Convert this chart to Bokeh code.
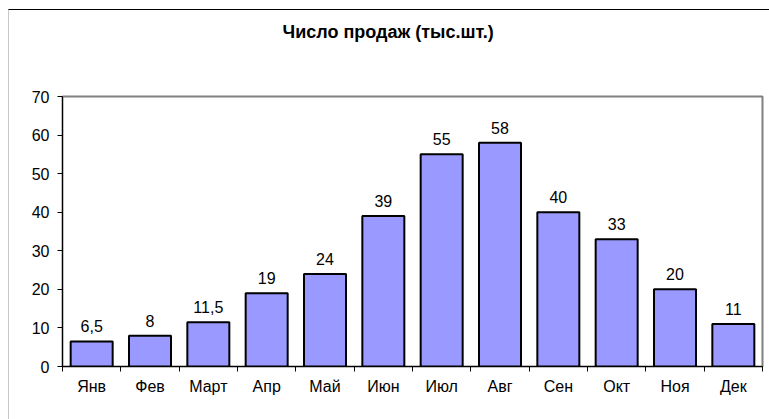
from bokeh.plotting import figure
from bokeh.models import Range1d, FixedTicker, ColumnDataSource, LabelSet, Title
from bokeh.core.properties import value
from bokeh.embed import file_html
from bokeh.resources import INLINE

months = ["Янв", "Фев", "Март", "Апр", "Май", "Июн", "Июл", "Авг", "Сен", "Окт", "Ноя", "Дек"]
sales = [6.5, 8, 11.5, 19, 24, 39, 55, 58, 40, 33, 20, 11]
value_labels = ["6,5", "8", "11,5", "19", "24", "39", "55", "58", "40", "33", "20", "11"]
y_ticks = [0, 10, 20, 30, 40, 50, 60, 70]
title_text = "Число продаж (тыс.шт.)"

xs = [i + 0.5 for i in range(len(months))]
src = ColumnDataSource(dict(x=xs, top=sales, lab=value_labels))

p = figure(width=761, height=410, output_backend="svg", toolbar_location=None,
           x_range=Range1d(0, len(months)), y_range=Range1d(0, 70),
           min_border_left=53, min_border_right=8, min_border_top=86, min_border_bottom=54)
p.margin = (9, 0, 0, 8)
p.styles = {"border-top": "1px solid black", "border-left": "1px solid #c8c8c8"}
p.background_fill_color = "white"
p.border_fill_color = "white"
p.outline_line_color = "#808080"
p.outline_line_width = 2
p.xgrid.visible = False
p.ygrid.visible = False

# spacer between frame and title
p.add_layout(Title(text=" ", text_font_size="1px", standoff=52), "above")

p.title.text = title_text
p.title.align = "left"
p.title.offset = 220
p.title.standoff = 0
p.title.text_font = "Liberation Sans"
p.title.text_font_size = "18px"
p.title.text_font_style = "bold"
p.title.text_color = "black"

p.vbar(x="x", top="top", bottom=0, width=0.72, source=src,
       fill_color="#9999FF", line_color="black", line_width=2)

p.add_layout(LabelSet(x="x", y="top", text="lab", source=src, text_align="center",
                      text_baseline="bottom", y_offset=9,
                      text_font=value("Liberation Sans"), text_font_size=value("16px"),
                      text_color="black"))

p.xaxis.ticker = FixedTicker(ticks=xs, minor_ticks=list(range(len(months) + 1)))
p.xaxis.major_label_overrides = {x: m for x, m in zip(xs, months)}
p.xaxis.major_tick_out = 0
p.xaxis.major_tick_in = 0
p.xaxis.minor_tick_out = 5
p.xaxis.minor_tick_in = 0
p.xaxis.minor_tick_line_color = "black"
p.xaxis.axis_line_color = "black"
p.xaxis.major_label_standoff = 6
p.xaxis.major_label_text_font = "Liberation Sans"
p.xaxis.major_label_text_font_size = "16px"
p.xaxis.major_label_text_color = "black"

p.yaxis.ticker = FixedTicker(ticks=y_ticks)
p.yaxis.major_tick_out = 5
p.yaxis.major_tick_in = 0
p.yaxis.minor_tick_out = 0
p.yaxis.minor_tick_in = 0
p.yaxis.axis_line_color = "black"
p.yaxis.major_tick_line_color = "black"
p.yaxis.major_label_standoff = 8
p.yaxis.major_label_text_font = "Liberation Sans"
p.yaxis.major_label_text_font_size = "16px"
p.yaxis.major_label_text_color = "black"

open("out.html", "w").write(file_html(p, INLINE))
